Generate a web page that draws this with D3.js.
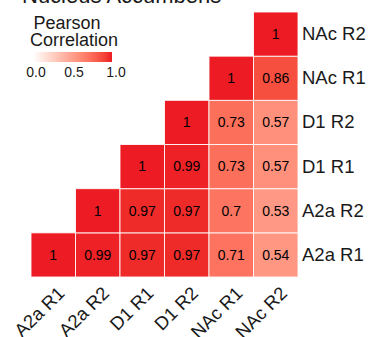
<!DOCTYPE html>
<html>
<head>
<meta charset="utf-8">
<script src="https://cdn.jsdelivr.net/npm/d3@7"></script>
<style>
  html, body { margin: 0; padding: 0; background: #fff; }
  svg { display: block; font-family: "Liberation Sans", Arial, Helvetica, sans-serif; }
</style>
</head>
<body>
<svg id="chart" width="369" height="337"></svg>
<script>
// Sample order (columns left to right, rows bottom to top)
const samples = ["A2a R1", "A2a R2", "D1 R1", "D1 R2", "NAc R1", "NAc R2"];

// Upper-triangle Pearson correlations, one array per row sample,
// starting at the diagonal and running to the right
const rowA2aR1 = [1, 0.99, 0.97, 0.97, 0.71, 0.54];
const rowA2aR2 = [1, 0.97, 0.97, 0.7, 0.53];
const rowD1R1  = [1, 0.99, 0.73, 0.57];
const rowD1R2  = [1, 0.73, 0.57];
const rowNAcR1 = [1, 0.86];
const rowNAcR2 = [1];

const legendTicks = [0.0, 0.5, 1.0];
const titleText = "Nucleus Accumbens";

const rows = [rowA2aR1, rowA2aR2, rowD1R1, rowD1R2, rowNAcR1, rowNAcR2];
const cells = [];
rows.forEach((vals, i) => {
  vals.forEach((v, k) => {
    cells.push({ row: samples[i], col: samples[i + k], value: v });
  });
});

const svg = d3.select("#chart");

const x = d3.scaleBand().domain(samples).range([31, 298]).padding(0);
const y = d3.scaleBand().domain(samples.slice().reverse()).range([12, 277]).padding(0);

const color = d3.scaleLinear()
  .domain([0, 1])
  .range(["#ffffff", "#ed1c24"])
  .interpolate(d3.interpolateLab);

// Title (sits at the very top edge)
svg.append("text")
  .attr("x", 22)
  .attr("y", 2.5)
  .attr("font-size", 22)
  .attr("fill", "#1a1a1a")
  .text(titleText);

// Heatmap cells
svg.append("g")
  .selectAll("rect")
  .data(cells)
  .join("rect")
  .attr("x", d => x(d.col))
  .attr("y", d => y(d.row))
  .attr("width", x.bandwidth())
  .attr("height", y.bandwidth())
  .attr("fill", d => color(d.value))
  .attr("stroke", "#ffffff")
  .attr("stroke-opacity", 0.85)
  .attr("stroke-width", 1);

// Cell value labels
svg.append("g")
  .selectAll("text")
  .data(cells)
  .join("text")
  .attr("x", d => x(d.col) + x.bandwidth() / 2)
  .attr("y", d => y(d.row) + y.bandwidth() / 2)
  .attr("dy", "0.35em")
  .attr("text-anchor", "middle")
  .attr("font-size", 14)
  .attr("fill", "#000")
  .text(d => d3.format("")(d.value));

// Row labels on the right
const yAxis = svg.append("g")
  .attr("transform", "translate(298,0)")
  .call(d3.axisRight(y).tickSize(0).tickPadding(4));
yAxis.select(".domain").remove();
yAxis.selectAll("text")
  .attr("font-size", 18.5)
  .attr("font-family", "Liberation Sans, Arial, sans-serif")
  .attr("fill", "#1a1a1a");

// Column labels, rotated
const xAxis = svg.append("g")
  .attr("transform", "translate(0,277)")
  .call(d3.axisBottom(x).tickSize(0));
xAxis.select(".domain").remove();
xAxis.selectAll("text")
  .attr("font-size", 18.5)
  .attr("font-family", "Liberation Sans, Arial, sans-serif")
  .attr("fill", "#1a1a1a")
  .attr("text-anchor", "end")
  .attr("x", 0)
  .attr("y", 0)
  .attr("dy", "0.72em")
  .attr("transform", "translate(3,8) rotate(-45)");

// Legend
const legend = svg.append("g");
legend.append("text")
  .attr("x", 67).attr("y", 29)
  .attr("text-anchor", "middle")
  .attr("font-size", 18)
  .attr("fill", "#1a1a1a")
  .text("Pearson");
legend.append("text")
  .attr("x", 74).attr("y", 46)
  .attr("text-anchor", "middle")
  .attr("font-size", 18)
  .attr("fill", "#1a1a1a")
  .text("Correlation");

const defs = svg.append("defs");
const grad = defs.append("linearGradient")
  .attr("id", "legend-grad")
  .attr("x1", "0%").attr("x2", "100%")
  .attr("y1", "0%").attr("y2", "0%");
d3.range(0, 1.0001, 0.1).forEach(t => {
  grad.append("stop")
    .attr("offset", (t * 100) + "%")
    .attr("stop-color", color(t));
});

const lx = d3.scaleLinear().domain([0, 1]).range([36, 112]);
legend.append("rect")
  .attr("x", 33).attr("y", 52)
  .attr("width", 79).attr("height", 10)
  .attr("fill", "url(#legend-grad)");

legend.append("g")
  .selectAll("text")
  .data(legendTicks)
  .join("text")
  .attr("x", d => lx(d) + (d === 1 ? 4 : 0))
  .attr("y", 77)
  .attr("text-anchor", "middle")
  .attr("font-size", 14)
  .attr("fill", "#1a1a1a")
  .text(d => d3.format(".1f")(d));
</script>
</body>
</html>
